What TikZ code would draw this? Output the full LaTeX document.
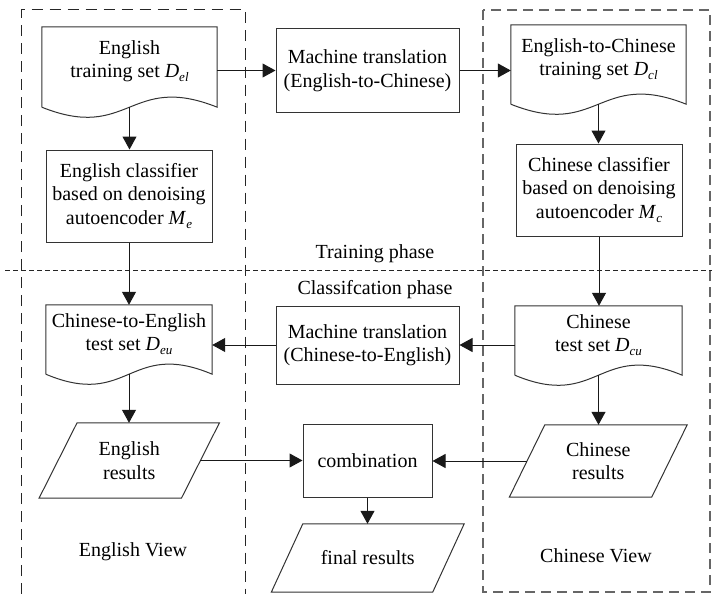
\documentclass[tikz,border=0pt]{standalone}
\usepackage{fontspec}
\setmainfont{Liberation Serif}
\usetikzlibrary{calc,arrows.meta}
\newcommand\mysub[1]{\raisebox{-0.45ex}{\fontsize{13pt}{13pt}\selectfont\itshape #1}}
\newcommand\mydoc[2]{%
  \draw[shp] ($(#1.south west)+(0,#2)$) -- (#1.north west) -- (#1.north east) -- ($(#1.south east)+(0,#2)$)
    .. controls ($(#1.south)+(0,#2-35)$) and ($(#1.south)+(0,#2+35)$) .. ($(#1.south west)+(0,#2)$);
  \coordinate (#1-b) at ($(#1.south)+(0,#2)$);}
\newcommand\mypar[2]{%
  \draw[shp] ($(#1.north west)+(#2/2,0)$) -- ($(#1.north east)+(#2/2,0)$)
    -- ($(#1.south east)+(-#2/2,0)$) -- ($(#1.south west)+(-#2/2,0)$) -- cycle;}
\tikzset{
  shp/.style={draw=black!80, line width=1pt},
  txt/.style={font=\fontsize{20pt}{23.5pt}\selectfont, align=center, inner sep=0pt},
  boxnode/.style={txt, shp, rectangle},
  arr/.style={-{Triangle[length=13pt,width=14pt]}, line width=1pt, draw=black!90},
}
\begin{document}
\begin{tikzpicture}[x=1pt,y=-1pt]
\useasboundingbox (0,0) rectangle (712,594);
% frames
\draw[black!85, line width=1pt, dash pattern=on 11pt off 7pt] (21.5,594) -- (21.5,10) -- (245,10) -- (245,594);
\draw[black!60, line width=1.4pt, dash pattern=on 10pt off 6pt] (483,10) rectangle (710,592);
\draw[black!85, line width=1pt, dash pattern=on 5pt off 3pt] (5,270) -- (712,270);
% nodes
\node[txt, minimum width=175pt, minimum height=68pt] (doc1) at (129.5,61) {English\\training set \textit{D}\mysub{el}};
\mydoc{doc1}{12}
\node[boxnode, minimum width=166pt, minimum height=92pt] (box2) at (129,196) {English classifier\\based on denoising\\autoencoder \textit{M}\mysub{e}};
\node[boxnode, minimum width=183pt, minimum height=83pt] (mt1) at (367.5,70.5) {Machine translation\\(English-to-Chinese)};
\node[txt, minimum width=175pt, minimum height=68pt] (doc4) at (598.5,59) {English-to-Chinese\\training set \textit{D}\mysub{cl}};
\mydoc{doc4}{11}
\node[boxnode, minimum width=166pt, minimum height=92pt] (box5) at (599,190) {Chinese classifier\\based on denoising\\autoencoder \textit{M}\mysub{c}};
\node[txt, minimum width=166pt, minimum height=58pt] (doc7) at (129,334) {Chinese-to-English\\test set \textit{D}\mysub{eu}};
\mydoc{doc7}{11}
\node[boxnode, minimum width=183pt, minimum height=78pt] (mt2) at (367.5,345) {Machine translation\\(Chinese-to-English)};
\node[txt, minimum width=167pt, minimum height=58pt] (doc9) at (598.5,335) {Chinese\\test set \textit{D}\mysub{cu}};
\mydoc{doc9}{11}
\node[txt, minimum width=142pt, minimum height=75pt] (engres) at (129.25,460.5) {English\\results};
\mypar{engres}{38}
\node[boxnode, minimum width=129pt, minimum height=73pt] (combo) at (367.5,460.5) {combination};
\node[txt, minimum width=142pt, minimum height=72pt] (chres) at (598.25,461) {Chinese\\results};
\mypar{chres}{35.5}
\node[txt, minimum width=161pt, minimum height=68pt] (final) at (367.75,558) {final results};
\mypar{final}{31.5}
% labels
\node[txt, anchor=base] (tp) at (375,258) {Training phase};
\node[txt, anchor=base] (cp) at (375,294) {Classifcation phase};
\node[txt, anchor=base] (ev) at (133,556.5) {English View};
\node[txt, anchor=base] (cv) at (596,562.5) {Chinese View};
% arrows
\draw[arr] (doc1-b) -- (doc1-b |- box2.north);
\draw[arr] (doc1.east |- mt1.west) -- (mt1.west);
\draw[arr] (mt1.east) -- (doc4.west |- mt1.east);
\draw[arr] (doc4-b) -- (doc4-b |- box5.north);
\draw[arr] (box2.south) -- (doc7.north);
\draw[arr] (box5.south) -- (box5.south |- doc9.north);
\draw[arr] (doc9.west |- mt2.east) -- (mt2.east);
\draw[arr] (mt2.west) -- (doc7.east |- mt2.west);
\draw[arr] (doc7-b) -- (doc7-b |- engres.north);
\draw[arr] (doc9-b) -- (doc9-b |- chres.north);
\draw[arr] (engres.east) -- (engres.east -| combo.west);
\draw[arr] (chres.west) -- (chres.west -| combo.east);
\draw[arr] (combo.south) -- (combo.south |- final.north);
\end{tikzpicture}
\end{document}
